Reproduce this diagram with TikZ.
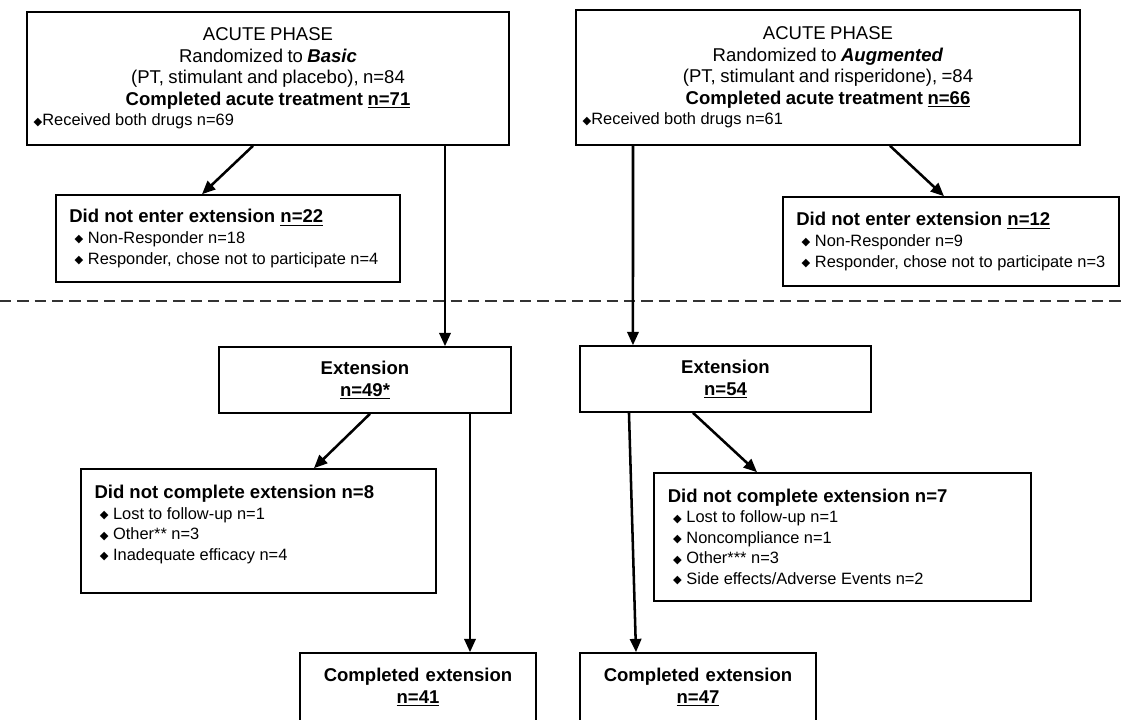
\documentclass[tikz,border=0pt]{standalone}
\usepackage{fontspec}
\setmainfont{Liberation Sans}
\newfontfamily\symfont{DejaVu Sans}
\usetikzlibrary{arrows.meta}

\newcommand\bigtxt{\fontsize{13.9}{16.1}\selectfont}
\newcommand\smalltxt{\fontsize{12.3}{15.4}\selectfont}
\newcommand\dia{{\symfont\fontsize{8.5}{8.5}\selectfont\raisebox{0.5pt}{◆}}}

\begin{document}
\begin{tikzpicture}
        [x=0.75pt,y=-0.75pt,
         box/.style={draw,line width=1.2pt,inner ysep=0pt,execute at begin node={\parindent=0pt}},
         acute/.style={box,inner xsep=5pt},
         side/.style={box,inner xsep=10pt,align=flush left,font=\smalltxt},
         mid/.style={box,inner xsep=5pt,align=center,font=\bigtxt\bfseries},
         arr/.style={-{Triangle[length=10pt,width=8.5pt]},line width=1.9pt},
         divider/.style={dashed,dash pattern=on 8.5pt off 4.5pt,line width=2pt,black!80}]

        \useasboundingbox (0,0) rectangle (1122,719);

        % acute phase
        \node[acute,minimum width=361.5pt,minimum height=99.75pt,text width=351.5pt] (acuteB) at (268,78.5)
          {{\centering\bigtxt ACUTE PHASE\\ Randomized to \textbf{\textit{Basic}}\\ (PT, stimulant and placebo), n=84\\ \textbf{Completed acute treatment \underline{n=71}}\par}
           {\raggedright\smalltxt\dia Received both drugs n=69\par}};
        \node[acute,minimum width=378pt,minimum height=101.25pt,text width=368pt] (acuteA) at (828,77.5)
          {{\centering\bigtxt ACUTE PHASE\\ Randomized to \textbf{\textit{Augmented}}\\ (PT, stimulant and risperidone), =84\\ \textbf{Completed acute treatment \underline{n=66}}\par}
           {\raggedright\smalltxt\dia Received both drugs n=61\par}};

        \node[side,minimum width=258pt,minimum height=65.25pt,text width=238pt] (noextB) at (228,238.5)
          {{\bigtxt\bfseries Did not enter extension \underline{n=22}}\\
           \hspace*{4pt}\dia\ Non-Responder n=18\\
           \hspace*{4pt}\dia\ Responder, chose not to participate n=4};
        \node[side,minimum width=252pt,minimum height=66.75pt,text width=232pt] (noextA) at (951,241.5)
          {{\bigtxt\bfseries Did not enter extension \underline{n=12}}\\
           \hspace*{4pt}\dia\ Non-Responder n=9\\
           \hspace*{4pt}\dia\ Responder, chose not to participate n=3};

        \coordinate (dashL) at (0,301);
        \coordinate (dashR) at (1122,301);
        \draw[divider] (dashL) -- (dashR);

        % extension
        \node[mid,minimum width=219pt,minimum height=49.5pt,text width=209pt] (extB) at (365,380)
          {Extension\\ \underline{n=49*}};
        \node[mid,minimum width=218.25pt,minimum height=49.5pt,text width=208pt] (extA) at (725.5,379)
          {Extension\\ \underline{n=54}};

        \node[side,minimum width=266.25pt,minimum height=93pt,text width=246pt] (dropB) at (258.5,531)
          {{\bigtxt\bfseries Did not complete extension n=8}\\
           \hspace*{4pt}\dia\ Lost to follow-up n=1\\
           \hspace*{4pt}\dia\ Other** n=3\\
           \hspace*{4pt}\dia\ Inadequate efficacy n=4\rule[-12pt]{0pt}{12pt}};
        \node[side,minimum width=282.75pt,minimum height=96pt,text width=262pt] (dropA) at (842.5,537)
          {{\bigtxt\bfseries Did not complete extension n=7}\\
           \hspace*{4pt}\dia\ Lost to follow-up n=1\\
           \hspace*{4pt}\dia\ Noncompliance n=1\\
           \hspace*{4pt}\dia\ Other*** n=3\\
           \hspace*{4pt}\dia\ Side effects/Adverse Events n=2};

        \node[mid,minimum width=177pt,minimum height=51pt,text width=167pt] (doneB) at (418,687)
          {Completed extension\\ \underline{n=41}};
        \node[mid,minimum width=177pt,minimum height=51pt,text width=167pt] (doneA) at (698,687)
          {Completed extension\\ \underline{n=47}};

        \draw[arr] ([xshift=-11.25pt]acuteB.south) -- ([xshift=-19.5pt]noextB.north);
        \draw[arr] ([xshift=132.75pt]acuteB.south) -- ([xshift=60pt]extB.north);
        \draw[arr] ([xshift=-146.25pt]acuteA.south) -- ([xshift=-69.4pt]extA.north);
        \draw[arr] ([xshift=46.5pt]acuteA.south) -- ([xshift=-5.25pt]noextA.north);
        \draw[arr] ([xshift=3.75pt]extB.south) -- ([xshift=41.6pt]dropB.north);
        \draw[arr] ([xshift=78.75pt]extB.south) -- ([xshift=39pt]doneB.north);
        \draw[arr] ([xshift=-24.4pt]extA.south) -- ([xshift=-64.1pt]dropA.north);
        \draw[arr] ([xshift=-72.4pt]extA.south) -- ([xshift=-46.5pt]doneA.north);
      \end{tikzpicture}
\end{document}
